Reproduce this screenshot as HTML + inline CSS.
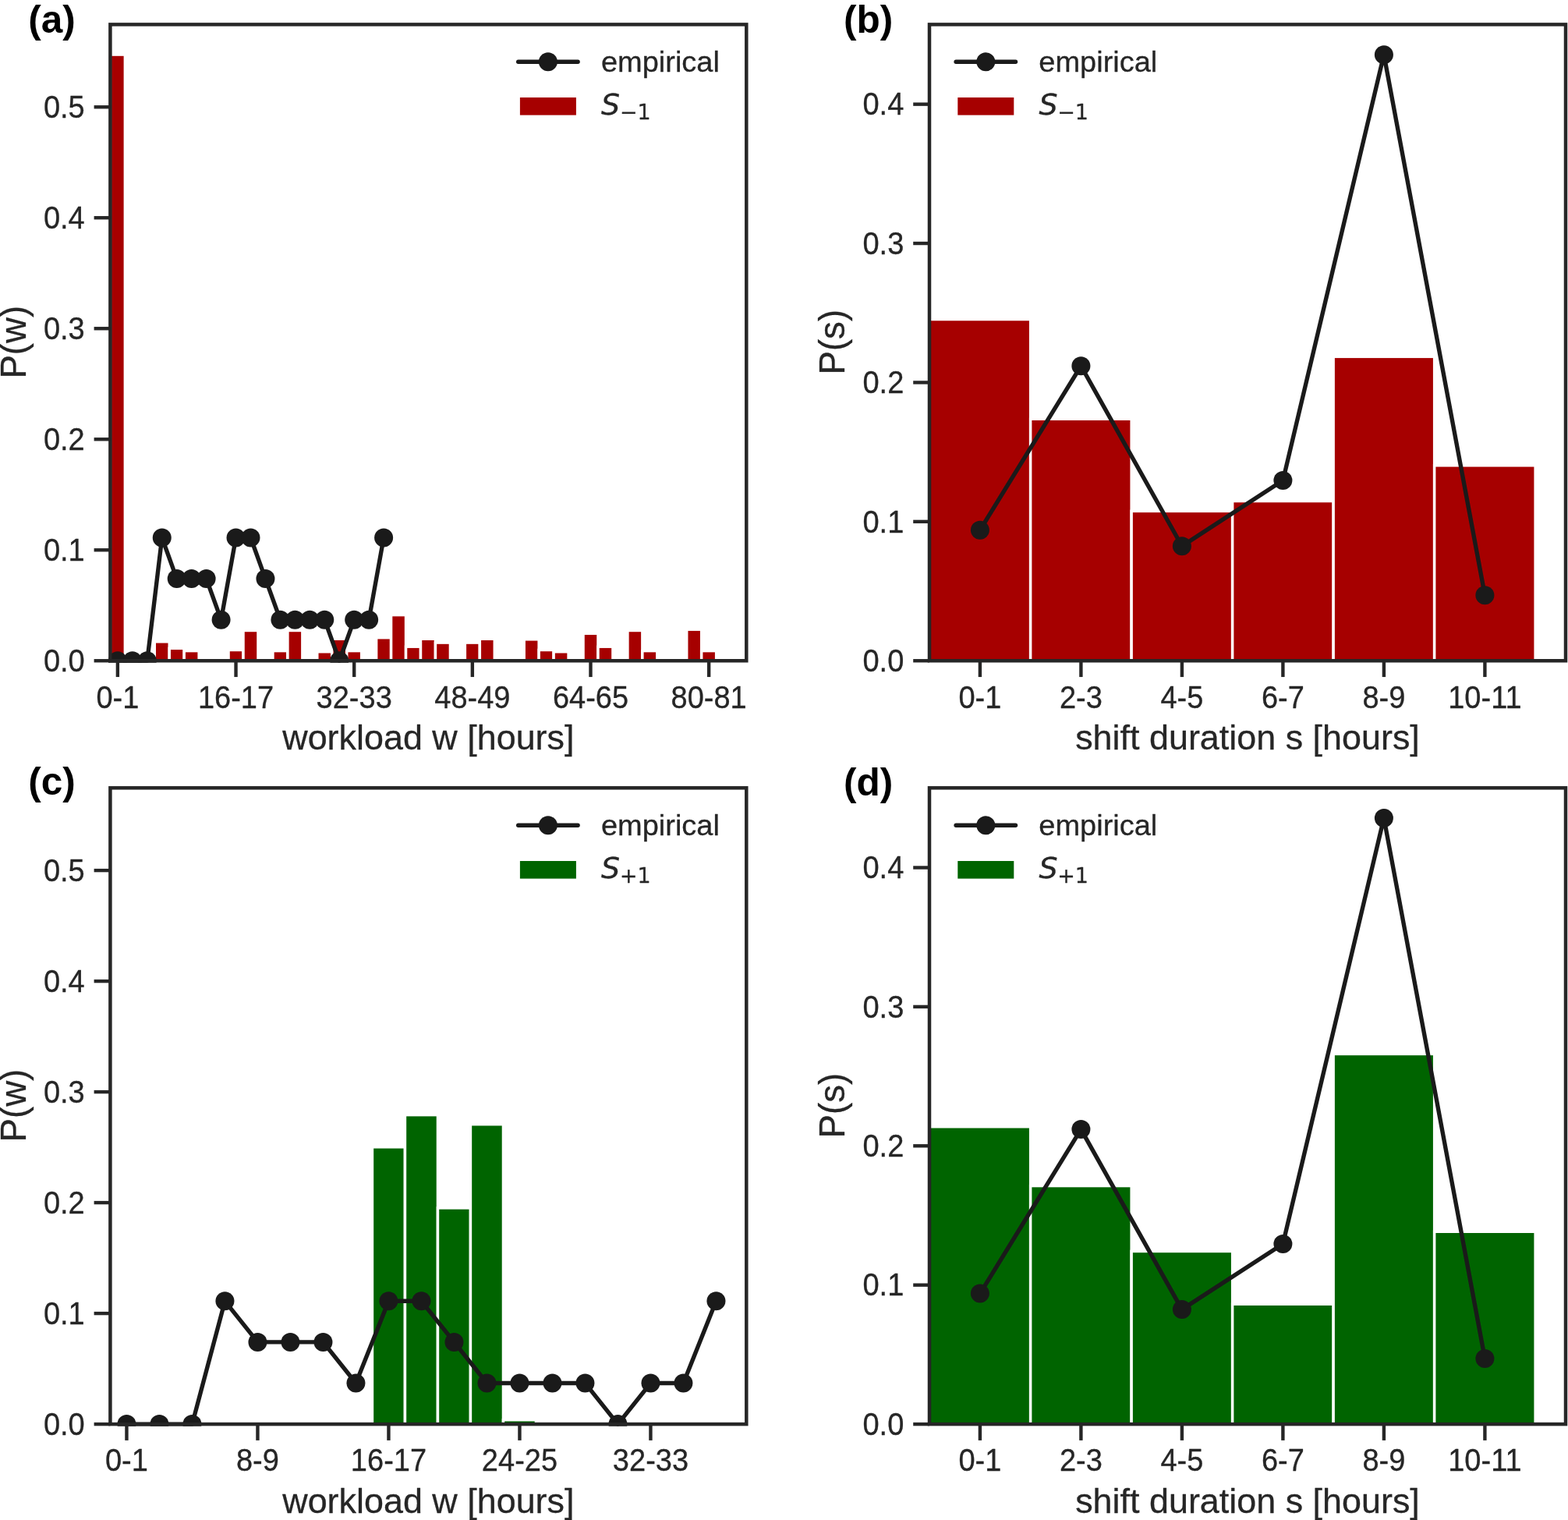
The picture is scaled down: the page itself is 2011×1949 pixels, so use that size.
<!DOCTYPE html>
<html lang="en">
<head>
<meta charset="utf-8">
<title>Workload and shift duration distributions</title>
<style>
html,body{margin:0;padding:0;background:#fff;}
body{width:2011px;height:1949px;overflow:hidden;}
svg{display:block;}
text{font-family:'Liberation Sans', sans-serif;fill:#262626;stroke:#262626;stroke-width:0.3px;stroke-linejoin:round;}
.tick{font-size:38.0px;}
.lab{font-size:44.9px;}
.leg{font-size:38.0px;}
.pl{font-size:49.5px;font-weight:bold;fill:#000;stroke:none;}
.m{font-family:'DejaVu Sans', sans-serif;font-style:italic;}
.ms{font-family:'DejaVu Sans', sans-serif;font-style:normal;}
.sp{fill:none;stroke:#262626;stroke-width:4.5;stroke-linecap:square;stroke-linejoin:miter;}
.tk{stroke:#262626;stroke-width:4.4;fill:none;}
.ln{fill:none;stroke:#1a1a1a;stroke-width:5.4;stroke-linejoin:round;stroke-linecap:round;}
.mk{fill:#1a1a1a;}
.br{stroke:#fff;stroke-width:3.47;stroke-linejoin:miter;}
</style>
</head>
<body>
<svg width="2011" height="1949" viewBox="0 0 2011 1949" role="img" aria-label="Empirical versus simulated distributions of workload and shift duration">
<rect x="0" y="0" width="2011" height="1949" fill="#fff"/>
<g id="panel-a">
<clipPath id="clip0"><rect x="141.4" y="31.4" width="815.9" height="815.85"/></clipPath>
<clipPath id="clip0l"><rect x="138.8" y="28.8" width="821.1" height="821.05"/></clipPath>
<g clip-path="url(#clip0)" fill="#a60000" class="br">
<rect x="141.4" y="70.07" width="18.96" height="777.18"/>
<rect x="198.27" y="822.81" width="18.96" height="24.44"/>
<rect x="217.23" y="831.33" width="18.96" height="15.92"/>
<rect x="236.19" y="834.6" width="18.96" height="12.65"/>
<rect x="293.06" y="833.46" width="18.96" height="13.79"/>
<rect x="312.01" y="808.47" width="18.96" height="38.78"/>
<rect x="349.93" y="834.6" width="18.96" height="12.65"/>
<rect x="368.89" y="808.47" width="18.96" height="38.78"/>
<rect x="406.8" y="835.73" width="18.96" height="11.52"/>
<rect x="425.76" y="819.26" width="18.96" height="27.99"/>
<rect x="444.71" y="834.6" width="18.96" height="12.65"/>
<rect x="482.63" y="817.7" width="18.96" height="29.55"/>
<rect x="501.58" y="788.59" width="18.96" height="58.66"/>
<rect x="520.54" y="829.2" width="18.96" height="18.05"/>
<rect x="539.5" y="819.26" width="18.96" height="27.99"/>
<rect x="558.46" y="824.09" width="18.96" height="23.16"/>
<rect x="596.37" y="824.09" width="18.96" height="23.16"/>
<rect x="615.33" y="819.26" width="18.96" height="27.99"/>
<rect x="672.2" y="819.83" width="18.96" height="27.42"/>
<rect x="691.15" y="833.46" width="18.96" height="13.79"/>
<rect x="710.11" y="835.73" width="18.96" height="11.52"/>
<rect x="748.03" y="812.3" width="18.96" height="34.95"/>
<rect x="766.98" y="829.2" width="18.96" height="18.05"/>
<rect x="804.9" y="808.47" width="18.96" height="38.78"/>
<rect x="823.85" y="834.6" width="18.96" height="12.65"/>
<rect x="880.72" y="807.19" width="18.96" height="40.06"/>
<rect x="899.68" y="834.6" width="18.96" height="12.65"/>
</g>
<g clip-path="url(#clip0l)">
<polyline class="ln" points="150.88,847.25 169.84,847.25 188.79,847.25 207.75,689.47 226.71,742.06 245.66,742.06 264.62,742.06 283.58,794.66 302.54,689.47 321.49,689.47 340.45,742.06 359.41,794.66 378.36,794.66 397.32,794.66 416.28,794.66 435.24,847.25 454.19,794.66 473.15,794.66 492.11,689.47"/>
<circle class="mk" cx="150.88" cy="847.25" r="12.0"/>
<circle class="mk" cx="169.84" cy="847.25" r="12.0"/>
<circle class="mk" cx="188.79" cy="847.25" r="12.0"/>
<circle class="mk" cx="207.75" cy="689.47" r="12.0"/>
<circle class="mk" cx="226.71" cy="742.06" r="12.0"/>
<circle class="mk" cx="245.66" cy="742.06" r="12.0"/>
<circle class="mk" cx="264.62" cy="742.06" r="12.0"/>
<circle class="mk" cx="283.58" cy="794.66" r="12.0"/>
<circle class="mk" cx="302.54" cy="689.47" r="12.0"/>
<circle class="mk" cx="321.49" cy="689.47" r="12.0"/>
<circle class="mk" cx="340.45" cy="742.06" r="12.0"/>
<circle class="mk" cx="359.41" cy="794.66" r="12.0"/>
<circle class="mk" cx="378.36" cy="794.66" r="12.0"/>
<circle class="mk" cx="397.32" cy="794.66" r="12.0"/>
<circle class="mk" cx="416.28" cy="794.66" r="12.0"/>
<circle class="mk" cx="435.24" cy="847.25" r="12.0"/>
<circle class="mk" cx="454.19" cy="794.66" r="12.0"/>
<circle class="mk" cx="473.15" cy="794.66" r="12.0"/>
<circle class="mk" cx="492.11" cy="689.47" r="12.0"/>
</g>
<line class="tk" x1="120.6" y1="847.25" x2="141.4" y2="847.25"/>
<text class="tick" text-anchor="end" transform="translate(108.7 860.95) scale(1 1.05)">0.0</text>
<line class="tk" x1="120.6" y1="705.25" x2="141.4" y2="705.25"/>
<text class="tick" text-anchor="end" transform="translate(108.7 718.95) scale(1 1.05)">0.1</text>
<line class="tk" x1="120.6" y1="563.25" x2="141.4" y2="563.25"/>
<text class="tick" text-anchor="end" transform="translate(108.7 576.95) scale(1 1.05)">0.2</text>
<line class="tk" x1="120.6" y1="421.25" x2="141.4" y2="421.25"/>
<text class="tick" text-anchor="end" transform="translate(108.7 434.95) scale(1 1.05)">0.3</text>
<line class="tk" x1="120.6" y1="279.25" x2="141.4" y2="279.25"/>
<text class="tick" text-anchor="end" transform="translate(108.7 292.95) scale(1 1.05)">0.4</text>
<line class="tk" x1="120.6" y1="137.25" x2="141.4" y2="137.25"/>
<text class="tick" text-anchor="end" transform="translate(108.7 150.95) scale(1 1.05)">0.5</text>
<line class="tk" x1="150.88" y1="847.25" x2="150.88" y2="868.05"/>
<text class="tick" text-anchor="middle" transform="translate(150.88 907.55) scale(1 1.05)">0-1</text>
<line class="tk" x1="302.54" y1="847.25" x2="302.54" y2="868.05"/>
<text class="tick" text-anchor="middle" transform="translate(302.54 907.55) scale(1 1.05)">16-17</text>
<line class="tk" x1="454.19" y1="847.25" x2="454.19" y2="868.05"/>
<text class="tick" text-anchor="middle" transform="translate(454.19 907.55) scale(1 1.05)">32-33</text>
<line class="tk" x1="605.85" y1="847.25" x2="605.85" y2="868.05"/>
<text class="tick" text-anchor="middle" transform="translate(605.85 907.55) scale(1 1.05)">48-49</text>
<line class="tk" x1="757.5" y1="847.25" x2="757.5" y2="868.05"/>
<text class="tick" text-anchor="middle" transform="translate(757.5 907.55) scale(1 1.05)">64-65</text>
<line class="tk" x1="909.16" y1="847.25" x2="909.16" y2="868.05"/>
<text class="tick" text-anchor="middle" transform="translate(909.16 907.55) scale(1 1.05)">80-81</text>
<rect class="sp" x="141.4" y="31.4" width="815.9" height="815.85"/>
<text class="lab" text-anchor="middle" transform="translate(549.35 960.75) scale(1 0.988)">workload w [hours]</text>
<text class="lab" style="font-size:45.6px" text-anchor="middle" transform="translate(33 438.72) rotate(-90) scale(1 1.005)">P(w)</text>
<text class="pl" x="36.3" y="42.4">(a)</text>
<g class="legend">
<line class="ln" x1="664.7" y1="79.3" x2="741.1" y2="79.3"/>
<circle class="mk" cx="702.9" cy="79.3" r="12.0"/>
<text class="leg" transform="translate(770.9 92.1) scale(1 0.988)">empirical</text>
<rect x="666.9" y="125" width="72" height="22.6" fill="#a60000"/>
<text class="leg m" transform="translate(771 147) scale(1 0.975)">S</text>
<text class="ms" style="font-size:26.9px" x="794.9" y="153">−1</text>
</g>
</g>
<g id="panel-b">
<clipPath id="clip1"><rect x="1192" y="31.4" width="816" height="815.85"/></clipPath>
<clipPath id="clip1l"><rect x="1189.4" y="28.8" width="821.2" height="821.05"/></clipPath>
<g clip-path="url(#clip1)" fill="#a60000" class="br">
<rect x="1192.15" y="409.53" width="129.5" height="437.72"/>
<rect x="1321.65" y="537.27" width="129.5" height="309.98"/>
<rect x="1451.15" y="655.37" width="129.5" height="191.88"/>
<rect x="1580.65" y="642.52" width="129.5" height="204.73"/>
<rect x="1710.15" y="457.35" width="129.5" height="389.9"/>
<rect x="1839.65" y="596.85" width="129.5" height="250.4"/>
</g>
<g clip-path="url(#clip1l)">
<polyline class="ln" points="1256.9,679.73 1386.4,469.22 1515.9,700.25 1645.4,616.04 1774.9,70.14 1904.4,763.22"/>
<circle class="mk" cx="1256.9" cy="679.73" r="12.0"/>
<circle class="mk" cx="1386.4" cy="469.22" r="12.0"/>
<circle class="mk" cx="1515.9" cy="700.25" r="12.0"/>
<circle class="mk" cx="1645.4" cy="616.04" r="12.0"/>
<circle class="mk" cx="1774.9" cy="70.14" r="12.0"/>
<circle class="mk" cx="1904.4" cy="763.22" r="12.0"/>
</g>
<line class="tk" x1="1171.2" y1="847.25" x2="1192" y2="847.25"/>
<text class="tick" text-anchor="end" transform="translate(1159.3 860.95) scale(1 1.05)">0.0</text>
<line class="tk" x1="1171.2" y1="668.85" x2="1192" y2="668.85"/>
<text class="tick" text-anchor="end" transform="translate(1159.3 682.55) scale(1 1.05)">0.1</text>
<line class="tk" x1="1171.2" y1="490.45" x2="1192" y2="490.45"/>
<text class="tick" text-anchor="end" transform="translate(1159.3 504.15) scale(1 1.05)">0.2</text>
<line class="tk" x1="1171.2" y1="312.05" x2="1192" y2="312.05"/>
<text class="tick" text-anchor="end" transform="translate(1159.3 325.75) scale(1 1.05)">0.3</text>
<line class="tk" x1="1171.2" y1="133.65" x2="1192" y2="133.65"/>
<text class="tick" text-anchor="end" transform="translate(1159.3 147.35) scale(1 1.05)">0.4</text>
<line class="tk" x1="1256.9" y1="847.25" x2="1256.9" y2="868.05"/>
<text class="tick" text-anchor="middle" transform="translate(1256.9 907.55) scale(1 1.05)">0-1</text>
<line class="tk" x1="1386.4" y1="847.25" x2="1386.4" y2="868.05"/>
<text class="tick" text-anchor="middle" transform="translate(1386.4 907.55) scale(1 1.05)">2-3</text>
<line class="tk" x1="1515.9" y1="847.25" x2="1515.9" y2="868.05"/>
<text class="tick" text-anchor="middle" transform="translate(1515.9 907.55) scale(1 1.05)">4-5</text>
<line class="tk" x1="1645.4" y1="847.25" x2="1645.4" y2="868.05"/>
<text class="tick" text-anchor="middle" transform="translate(1645.4 907.55) scale(1 1.05)">6-7</text>
<line class="tk" x1="1774.9" y1="847.25" x2="1774.9" y2="868.05"/>
<text class="tick" text-anchor="middle" transform="translate(1774.9 907.55) scale(1 1.05)">8-9</text>
<line class="tk" x1="1904.4" y1="847.25" x2="1904.4" y2="868.05"/>
<text class="tick" text-anchor="middle" transform="translate(1904.4 907.55) scale(1 1.05)">10-11</text>
<rect class="sp" x="1192" y="31.4" width="816" height="815.85"/>
<text class="lab" text-anchor="middle" transform="translate(1600 960.75) scale(1 0.988)">shift duration s [hours]</text>
<text class="lab" style="font-size:45.6px" text-anchor="middle" transform="translate(1083 438.72) rotate(-90) scale(1 1.005)">P(s)</text>
<text class="pl" x="1082" y="42.4">(b)</text>
<g class="legend">
<line class="ln" x1="1226.1" y1="79.3" x2="1302.5" y2="79.3"/>
<circle class="mk" cx="1264.3" cy="79.3" r="12.0"/>
<text class="leg" transform="translate(1332.3 92.1) scale(1 0.988)">empirical</text>
<rect x="1228.3" y="125" width="72" height="22.6" fill="#a60000"/>
<text class="leg m" transform="translate(1332.4 147) scale(1 0.975)">S</text>
<text class="ms" style="font-size:26.9px" x="1356.3" y="153">−1</text>
</g>
</g>
<g id="panel-c">
<clipPath id="clip2"><rect x="141.4" y="1010.3" width="815.9" height="815.8"/></clipPath>
<clipPath id="clip2l"><rect x="138.8" y="1007.7" width="821.1" height="821"/></clipPath>
<g clip-path="url(#clip2)" fill="#006400" class="br">
<rect x="477.45" y="1470.82" width="42" height="355.27"/>
<rect x="519.45" y="1429.64" width="42" height="396.46"/>
<rect x="561.45" y="1548.92" width="42" height="277.18"/>
<rect x="603.45" y="1441.71" width="42" height="384.39"/>
<rect x="645.45" y="1820.71" width="42" height="5.39"/>
</g>
<g clip-path="url(#clip2l)">
<polyline class="ln" points="162.45,1826.1 204.45,1826.1 246.45,1826.1 288.45,1668.32 330.45,1720.91 372.45,1720.91 414.45,1720.91 456.45,1773.51 498.45,1668.32 540.45,1668.32 582.45,1720.91 624.45,1773.51 666.45,1773.51 708.45,1773.51 750.45,1773.51 792.45,1826.1 834.45,1773.51 876.45,1773.51 918.45,1668.32"/>
<circle class="mk" cx="162.45" cy="1826.1" r="12.0"/>
<circle class="mk" cx="204.45" cy="1826.1" r="12.0"/>
<circle class="mk" cx="246.45" cy="1826.1" r="12.0"/>
<circle class="mk" cx="288.45" cy="1668.32" r="12.0"/>
<circle class="mk" cx="330.45" cy="1720.91" r="12.0"/>
<circle class="mk" cx="372.45" cy="1720.91" r="12.0"/>
<circle class="mk" cx="414.45" cy="1720.91" r="12.0"/>
<circle class="mk" cx="456.45" cy="1773.51" r="12.0"/>
<circle class="mk" cx="498.45" cy="1668.32" r="12.0"/>
<circle class="mk" cx="540.45" cy="1668.32" r="12.0"/>
<circle class="mk" cx="582.45" cy="1720.91" r="12.0"/>
<circle class="mk" cx="624.45" cy="1773.51" r="12.0"/>
<circle class="mk" cx="666.45" cy="1773.51" r="12.0"/>
<circle class="mk" cx="708.45" cy="1773.51" r="12.0"/>
<circle class="mk" cx="750.45" cy="1773.51" r="12.0"/>
<circle class="mk" cx="792.45" cy="1826.1" r="12.0"/>
<circle class="mk" cx="834.45" cy="1773.51" r="12.0"/>
<circle class="mk" cx="876.45" cy="1773.51" r="12.0"/>
<circle class="mk" cx="918.45" cy="1668.32" r="12.0"/>
</g>
<line class="tk" x1="120.6" y1="1826.1" x2="141.4" y2="1826.1"/>
<text class="tick" text-anchor="end" transform="translate(108.7 1839.8) scale(1 1.05)">0.0</text>
<line class="tk" x1="120.6" y1="1684.1" x2="141.4" y2="1684.1"/>
<text class="tick" text-anchor="end" transform="translate(108.7 1697.8) scale(1 1.05)">0.1</text>
<line class="tk" x1="120.6" y1="1542.1" x2="141.4" y2="1542.1"/>
<text class="tick" text-anchor="end" transform="translate(108.7 1555.8) scale(1 1.05)">0.2</text>
<line class="tk" x1="120.6" y1="1400.1" x2="141.4" y2="1400.1"/>
<text class="tick" text-anchor="end" transform="translate(108.7 1413.8) scale(1 1.05)">0.3</text>
<line class="tk" x1="120.6" y1="1258.1" x2="141.4" y2="1258.1"/>
<text class="tick" text-anchor="end" transform="translate(108.7 1271.8) scale(1 1.05)">0.4</text>
<line class="tk" x1="120.6" y1="1116.1" x2="141.4" y2="1116.1"/>
<text class="tick" text-anchor="end" transform="translate(108.7 1129.8) scale(1 1.05)">0.5</text>
<line class="tk" x1="162.45" y1="1826.1" x2="162.45" y2="1846.9"/>
<text class="tick" text-anchor="middle" transform="translate(162.45 1886.4) scale(1 1.05)">0-1</text>
<line class="tk" x1="330.45" y1="1826.1" x2="330.45" y2="1846.9"/>
<text class="tick" text-anchor="middle" transform="translate(330.45 1886.4) scale(1 1.05)">8-9</text>
<line class="tk" x1="498.45" y1="1826.1" x2="498.45" y2="1846.9"/>
<text class="tick" text-anchor="middle" transform="translate(498.45 1886.4) scale(1 1.05)">16-17</text>
<line class="tk" x1="666.45" y1="1826.1" x2="666.45" y2="1846.9"/>
<text class="tick" text-anchor="middle" transform="translate(666.45 1886.4) scale(1 1.05)">24-25</text>
<line class="tk" x1="834.45" y1="1826.1" x2="834.45" y2="1846.9"/>
<text class="tick" text-anchor="middle" transform="translate(834.45 1886.4) scale(1 1.05)">32-33</text>
<rect class="sp" x="141.4" y="1010.3" width="815.9" height="815.8"/>
<text class="lab" text-anchor="middle" transform="translate(549.35 1940.1) scale(1 0.988)">workload w [hours]</text>
<text class="lab" style="font-size:45.6px" text-anchor="middle" transform="translate(33 1417.6) rotate(-90) scale(1 1.005)">P(w)</text>
<text class="pl" x="36.3" y="1019.4">(c)</text>
<g class="legend">
<line class="ln" x1="664.7" y1="1058.3" x2="741.1" y2="1058.3"/>
<circle class="mk" cx="702.9" cy="1058.3" r="12.0"/>
<text class="leg" transform="translate(770.9 1071.1) scale(1 0.988)">empirical</text>
<rect x="666.9" y="1104" width="72" height="22.6" fill="#006400"/>
<text class="leg m" transform="translate(771 1126) scale(1 0.975)">S</text>
<text class="ms" style="font-size:26.9px" x="794.9" y="1132">+1</text>
</g>
</g>
<g id="panel-d">
<clipPath id="clip3"><rect x="1192" y="1010.3" width="816" height="815.8"/></clipPath>
<clipPath id="clip3l"><rect x="1189.4" y="1007.7" width="821.2" height="821"/></clipPath>
<g clip-path="url(#clip3)" fill="#006400" class="br">
<rect x="1192.15" y="1444.76" width="129.5" height="381.34"/>
<rect x="1321.65" y="1520.58" width="129.5" height="305.52"/>
<rect x="1451.15" y="1604.43" width="129.5" height="221.67"/>
<rect x="1580.65" y="1672.22" width="129.5" height="153.88"/>
<rect x="1710.15" y="1351.46" width="129.5" height="474.64"/>
<rect x="1839.65" y="1579.27" width="129.5" height="246.83"/>
</g>
<g clip-path="url(#clip3l)">
<polyline class="ln" points="1256.9,1658.58 1386.4,1448.07 1515.9,1679.1 1645.4,1594.89 1774.9,1048.99 1904.4,1742.07"/>
<circle class="mk" cx="1256.9" cy="1658.58" r="12.0"/>
<circle class="mk" cx="1386.4" cy="1448.07" r="12.0"/>
<circle class="mk" cx="1515.9" cy="1679.1" r="12.0"/>
<circle class="mk" cx="1645.4" cy="1594.89" r="12.0"/>
<circle class="mk" cx="1774.9" cy="1048.99" r="12.0"/>
<circle class="mk" cx="1904.4" cy="1742.07" r="12.0"/>
</g>
<line class="tk" x1="1171.2" y1="1826.1" x2="1192" y2="1826.1"/>
<text class="tick" text-anchor="end" transform="translate(1159.3 1839.8) scale(1 1.05)">0.0</text>
<line class="tk" x1="1171.2" y1="1647.7" x2="1192" y2="1647.7"/>
<text class="tick" text-anchor="end" transform="translate(1159.3 1661.4) scale(1 1.05)">0.1</text>
<line class="tk" x1="1171.2" y1="1469.3" x2="1192" y2="1469.3"/>
<text class="tick" text-anchor="end" transform="translate(1159.3 1483) scale(1 1.05)">0.2</text>
<line class="tk" x1="1171.2" y1="1290.9" x2="1192" y2="1290.9"/>
<text class="tick" text-anchor="end" transform="translate(1159.3 1304.6) scale(1 1.05)">0.3</text>
<line class="tk" x1="1171.2" y1="1112.5" x2="1192" y2="1112.5"/>
<text class="tick" text-anchor="end" transform="translate(1159.3 1126.2) scale(1 1.05)">0.4</text>
<line class="tk" x1="1256.9" y1="1826.1" x2="1256.9" y2="1846.9"/>
<text class="tick" text-anchor="middle" transform="translate(1256.9 1886.4) scale(1 1.05)">0-1</text>
<line class="tk" x1="1386.4" y1="1826.1" x2="1386.4" y2="1846.9"/>
<text class="tick" text-anchor="middle" transform="translate(1386.4 1886.4) scale(1 1.05)">2-3</text>
<line class="tk" x1="1515.9" y1="1826.1" x2="1515.9" y2="1846.9"/>
<text class="tick" text-anchor="middle" transform="translate(1515.9 1886.4) scale(1 1.05)">4-5</text>
<line class="tk" x1="1645.4" y1="1826.1" x2="1645.4" y2="1846.9"/>
<text class="tick" text-anchor="middle" transform="translate(1645.4 1886.4) scale(1 1.05)">6-7</text>
<line class="tk" x1="1774.9" y1="1826.1" x2="1774.9" y2="1846.9"/>
<text class="tick" text-anchor="middle" transform="translate(1774.9 1886.4) scale(1 1.05)">8-9</text>
<line class="tk" x1="1904.4" y1="1826.1" x2="1904.4" y2="1846.9"/>
<text class="tick" text-anchor="middle" transform="translate(1904.4 1886.4) scale(1 1.05)">10-11</text>
<rect class="sp" x="1192" y="1010.3" width="816" height="815.8"/>
<text class="lab" text-anchor="middle" transform="translate(1600 1940.1) scale(1 0.988)">shift duration s [hours]</text>
<text class="lab" style="font-size:45.6px" text-anchor="middle" transform="translate(1083 1417.6) rotate(-90) scale(1 1.005)">P(s)</text>
<text class="pl" x="1082" y="1019.5">(d)</text>
<g class="legend">
<line class="ln" x1="1226.1" y1="1058.3" x2="1302.5" y2="1058.3"/>
<circle class="mk" cx="1264.3" cy="1058.3" r="12.0"/>
<text class="leg" transform="translate(1332.3 1071.1) scale(1 0.988)">empirical</text>
<rect x="1228.3" y="1104" width="72" height="22.6" fill="#006400"/>
<text class="leg m" transform="translate(1332.4 1126) scale(1 0.975)">S</text>
<text class="ms" style="font-size:26.9px" x="1356.3" y="1132">+1</text>
</g>
</g>
</svg>
</body>
</html>
